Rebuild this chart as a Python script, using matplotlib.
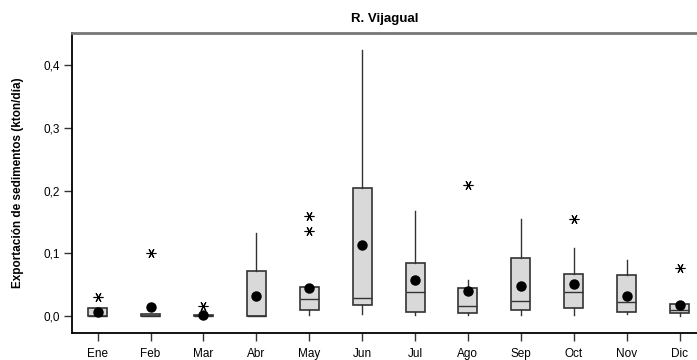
import matplotlib
matplotlib.use('Agg')
import matplotlib.pyplot as plt
from matplotlib.ticker import FuncFormatter

plt.rcParams['font.family'] = ['Liberation Sans', 'DejaVu Sans']

meses = ['Ene', 'Feb', 'Mar', 'Abr', 'May', 'Jun', 'Jul', 'Ago', 'Sep', 'Oct', 'Nov', 'Dic']
q1 = [0.0, 0.0, 0.0, 0.0, 0.010, 0.018, 0.007, 0.006, 0.010, 0.013, 0.007, 0.006]
mediana = [0.0, 0.001, 0.0005, 0.0, 0.027, 0.029, 0.038, 0.017, 0.024, 0.038, 0.023, 0.010]
q3 = [0.013, 0.003, 0.002, 0.072, 0.046, 0.204, 0.085, 0.045, 0.093, 0.068, 0.065, 0.020]
bigote_inf = [0.0, 0.0, 0.0, 0.0, 0.002, 0.003, 0.002, 0.002, 0.002, 0.002, 0.004, 0.0]
bigote_sup = [0.013, 0.003, 0.002, 0.132, 0.046, 0.424, 0.168, 0.057, 0.155, 0.108, 0.090, 0.020]
media = [0.007, 0.015, 0.002, 0.033, 0.045, 0.113, 0.057, 0.041, 0.049, 0.052, 0.033, 0.018]
atipicos = [[0.030], [0.101], [0.017], [], [0.159, 0.136], [], [], [0.209], [], [0.155], [], [0.077]]

stats = []
for i in range(len(meses)):
    stats.append(dict(q1=q1[i], med=mediana[i], q3=q3[i], whislo=bigote_inf[i],
                      whishi=bigote_sup[i], mean=media[i], fliers=atipicos[i]))

fig = plt.figure(figsize=(6.97, 3.6), dpi=100)
ax = fig.add_axes([72 / 697, 27 / 360, 625 / 697, 300 / 360])

pos = list(range(len(meses)))
ax.bxp(stats, positions=pos, widths=0.36, patch_artist=True, showmeans=True,
       showcaps=False,
       boxprops=dict(facecolor='#d9d9d9', edgecolor='#333333', linewidth=1.2),
       medianprops=dict(color='#333333', linewidth=1),
       whiskerprops=dict(color='#333333', linewidth=1),
       meanprops=dict(marker='o', markerfacecolor='black', markeredgecolor='black', markersize=6.5),
       flierprops=dict(marker=(6, 2, 30), markeredgecolor='black', markersize=7, markeredgewidth=0.8))

ax.set_xlim(-0.486, 11.33)
ax.set_ylim(-0.0266, 0.451)
ax.set_xticks(pos)
ax.set_xticklabels(meses)
ax.set_yticks([0.0, 0.1, 0.2, 0.3, 0.4])
ax.yaxis.set_major_formatter(FuncFormatter(lambda v, p: f'{v:.1f}'.replace('.', ',')))
ax.tick_params(axis='both', labelsize=8.5, length=5.5, width=1, color='#333333', direction='out')
ax.tick_params(axis='y', pad=3)
ax.tick_params(axis='x', pad=5)

ax.spines['right'].set_visible(False)
ax.spines['top'].set_color('#777777')
ax.spines['top'].set_linewidth(2)
ax.spines['left'].set_linewidth(1.3)
ax.spines['bottom'].set_linewidth(1.3)

ax.set_title('R. Vijagual', fontsize=9.5, fontweight='bold', pad=8)
ax.set_ylabel('Exportación de sedimentos (kton/día)', fontsize=8.5, fontweight='bold', labelpad=14)

fig.savefig('out.png', dpi=100)
